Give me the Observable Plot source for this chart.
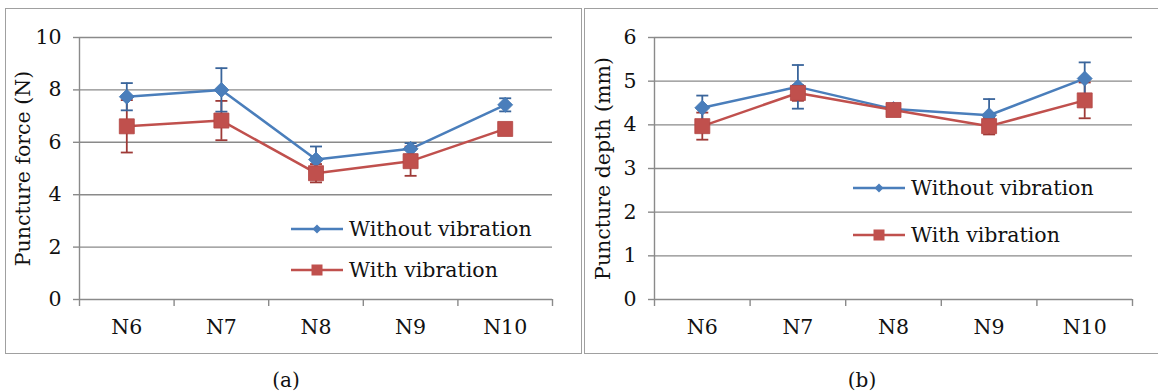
<!DOCTYPE html>
<html>
<head>
<meta charset="utf-8">
<script src="https://cdn.jsdelivr.net/npm/d3@7"></script>
<script src="https://cdn.jsdelivr.net/npm/@observablehq/plot@0.6"></script>
<style>
  body { margin: 0; background: #fff; }
  #fig { position: relative; width: 1158px; height: 392px; overflow: hidden; font-family: "DejaVu Serif", serif; }
  .panel { position: absolute; box-sizing: border-box; border: 1.5px solid #a0a0a0; }
  .plot { position: absolute; }
  .cap { position: absolute; font-size: 20px; color: #111; transform: translateX(-50%); }
  #legend { position: absolute; left: 0; top: 0; }
</style>
</head>
<body>
<div id="fig">
  <div class="panel" style="left:5px; top:8px; width:577px; height:346px;"></div>
  <div class="panel" style="left:584px; top:8px; width:580px; height:346px;"></div>
  <div class="plot" id="pa" style="left:5px; top:9px;"></div>
  <div class="plot" id="pb" style="left:585px; top:8px;"></div>
  <div class="cap" style="left:286px; top:368px;">(a)</div>
  <div class="cap" style="left:862px; top:368px;">(b)</div>
</div>
<script>
// ---- data ----
const categories = ["N6", "N7", "N8", "N9", "N10"];
const seriesNames = ["Without vibration", "With vibration"];

const forceWithout    = [7.74, 8.00, 5.34, 5.75, 7.43];
const forceWithoutErr = [0.52, 0.83, 0.50, 0.22, 0.25];
const forceWith       = [6.61, 6.83, 4.82, 5.28, 6.51];
const forceWithErr    = [1.00, 0.75, 0.35, 0.56, 0.08];

const depthWithout    = [4.39, 4.87, 4.36, 4.22, 5.06];
const depthWithoutErr = [0.28, 0.50, 0.05, 0.37, 0.37];
const depthWith       = [3.97, 4.73, 4.34, 3.97, 4.56];
const depthWithErr    = [0.31, 0.18, 0.05, 0.19, 0.41];

const forceTicks = [0, 2, 4, 6, 8, 10];
const depthTicks = [0, 1, 2, 3, 4, 5, 6];

// ---- styles ----
const BLUE = "#4a7ebb", BLUE_ERR = "#3a659b";
const RED = "#c0504d", RED_ERR = "#9e3a37";
const GRID = "#8a8a8a";
const FONT = "DejaVu Serif";
const FS = "20.5px";

const capSymbol = { draw(ctx) { ctx.moveTo(-6, 0); ctx.lineTo(6, 0); } };
const diamondSymbol = { draw(ctx) { ctx.moveTo(0, -7.5); ctx.lineTo(7.5, 0); ctx.lineTo(0, 7.5); ctx.lineTo(-7.5, 0); ctx.closePath(); } };
const squareSymbol = { draw(ctx) { ctx.rect(-7.5, -7.5, 15, 15); } };

function rows(values, errs) {
  return values.map((v, i) => ({ x: i + 0.5, y: v, lo: v - errs[i], hi: v + errs[i] }));
}

function panel({ without, withv, yDomain, yTicks, yLabel, width, height, margins, labelOffset }) {
  const bl = rows(without.v, without.e);
  const rd = rows(withv.v, withv.e);
  const errMarks = (d, c) => [
    Plot.ruleX(d, { x: "x", y1: "lo", y2: "hi", stroke: c, strokeWidth: 1.8 }),
    Plot.dot(d, { x: "x", y: "hi", symbol: capSymbol, stroke: c, strokeWidth: 1.8, fill: "none" }),
    Plot.dot(d, { x: "x", y: "lo", symbol: capSymbol, stroke: c, strokeWidth: 1.8, fill: "none" })
  ];
  return Plot.plot({
    width, height,
    marginLeft: margins[0], marginRight: margins[1], marginTop: margins[2], marginBottom: margins[3],
    style: { fontFamily: FONT, fontSize: FS, color: "#111", background: "transparent" },
    x: { type: "linear", domain: [0, categories.length] },
    y: { domain: yDomain },
    marks: [
      Plot.gridY(yTicks, { stroke: GRID, strokeOpacity: 1, strokeWidth: 1.4 }),
      Plot.ruleX([0], { stroke: GRID, strokeWidth: 1.4 }),
      Plot.axisY({ ticks: yTicks, tickSize: 6, tickPadding: 12, stroke: GRID, strokeWidth: 1.4, fill: "#111",
                   tickFormat: d => String(d), fontSize: FS,
                   label: yLabel, labelAnchor: "center", labelArrow: "none", labelOffset }),
      Plot.axisX({ ticks: d3.range(categories.length + 1), tickSize: 7, stroke: GRID, strokeWidth: 1.4,
                   tickFormat: () => "", label: null }),
      Plot.axisX({ ticks: categories.map((c, i) => i + 0.5), tickSize: 0, tickPadding: 20,
                   tickFormat: d => categories[Math.floor(d)], fill: "#111", fontSize: FS, label: null }),
      Plot.line(bl, { x: "x", y: "y", stroke: BLUE, strokeWidth: 2.5 }),
      Plot.line(rd, { x: "x", y: "y", stroke: RED, strokeWidth: 2.5 }),
      ...errMarks(rd, RED_ERR),
      ...errMarks(bl, BLUE_ERR),
      Plot.dot(bl, { x: "x", y: "y", symbol: diamondSymbol, fill: BLUE, stroke: "#4377b4", strokeWidth: 0.8 }),
      Plot.dot(rd, { x: "x", y: "y", symbol: squareSymbol, fill: RED, stroke: "#b24542", strokeWidth: 0.8 })
    ]
  });
}

document.getElementById("pa").append(panel({
  without: { v: forceWithout, e: forceWithoutErr },
  withv: { v: forceWith, e: forceWithErr },
  yDomain: [0, 10], yTicks: forceTicks, yLabel: "Puncture force (N)",
  width: 576, height: 344, margins: [74, 29, 28, 54], labelOffset: 64
}));
document.getElementById("pb").append(panel({
  without: { v: depthWithout, e: depthWithoutErr },
  withv: { v: depthWith, e: depthWithErr },
  yDomain: [0, 6], yTicks: depthTicks, yLabel: "Puncture depth (mm)",
  width: 573, height: 345, margins: [69, 26, 29, 54], labelOffset: 59
}));

// ---- legends (overlay) ----
const ns = "http://www.w3.org/2000/svg";
const lg = document.createElementNS(ns, "svg");
lg.setAttribute("id", "legend");
lg.setAttribute("width", 1158); lg.setAttribute("height", 392);
lg.style.fontFamily = FONT; lg.style.fontSize = FS;
function el(tag, attrs, parent) {
  const e = document.createElementNS(ns, tag);
  for (const k in attrs) e.setAttribute(k, attrs[k]);
  parent.appendChild(e); return e;
}
function legend(x0, yRows) {
  const specs = [
    { name: seriesNames[0], color: BLUE, kind: "diamond" },
    { name: seriesNames[1], color: RED, kind: "square" }
  ];
  specs.forEach((s, i) => {
    const y = yRows[i];
    el("line", { x1: x0, x2: x0 + 52, y1: y, y2: y, stroke: s.color, "stroke-width": 2.5 }, lg);
    const cx = x0 + 26;
    if (s.kind === "diamond") {
      el("path", { d: `M${cx},${y - 4.5}L${cx + 4.5},${y}L${cx},${y + 4.5}L${cx - 4.5},${y}Z`, fill: s.color }, lg);
    } else {
      el("rect", { x: cx - 5.5, y: y - 5.5, width: 11, height: 11, fill: s.color }, lg);
    }
    const t = el("text", { x: x0 + 58, y: y, dy: "0.35em", fill: "#111" }, lg);
    t.textContent = s.name;
  });
}
legend(291, [229, 270]);
legend(853, [188, 235]);
document.getElementById("fig").appendChild(lg);
</script>
</body>
</html>
